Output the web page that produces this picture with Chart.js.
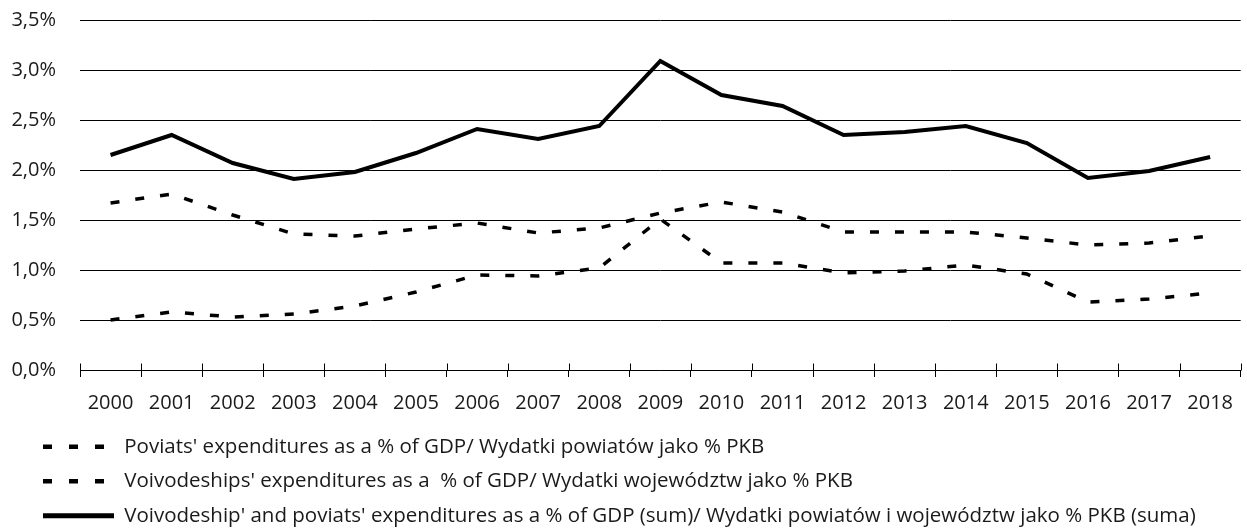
<!DOCTYPE html>
<html>
<head>
<meta charset="utf-8">
<script src="https://cdn.jsdelivr.net/npm/chart.js@4/dist/chart.umd.min.js"></script>
<style>
  html, body { margin: 0; padding: 0; background: #fff; }
  #wrap { width: 1247px; height: 528px; }
</style>
</head>
<body>
<div id="wrap"><canvas id="myChart" width="1247" height="528"></canvas></div>
<script>
/*
  • Data
  ---------- ---------- ---------- ---------- ----------
*/
const years = ['2000', '2001', '2002', '2003', '2004', '2005', '2006', '2007', '2008', '2009',
  '2010', '2011', '2012', '2013', '2014', '2015', '2016', '2017', '2018'];

const poviats = [1.67, 1.76, 1.55, 1.36, 1.34, 1.41, 1.47, 1.37, 1.42, 1.57,
  1.68, 1.58, 1.38, 1.38, 1.38, 1.32, 1.25, 1.27, 1.34];

const voivodeships = [0.50, 0.58, 0.53, 0.56, 0.64, 0.78, 0.95, 0.94, 1.02, 1.51,
  1.07, 1.07, 0.97, 0.99, 1.05, 0.96, 0.68, 0.71, 0.77];

const total = [2.15, 2.35, 2.07, 1.91, 1.98, 2.17, 2.41, 2.31, 2.44, 3.09,
  2.75, 2.64, 2.35, 2.38, 2.44, 2.27, 1.92, 1.99, 2.13];

const yTickLabels = ['0,0%', '0,5%', '1,0%', '1,5%', '2,0%', '2,5%', '3,0%', '3,5%'];

const seriesLabels = [
  "Poviats' expenditures as a % of GDP/ Wydatki powiatów jako % PKB",
  "Voivodeships' expenditures as a  % of GDP/ Wydatki województw jako % PKB",
  "Voivodeship' and poviats' expenditures as a % of GDP (sum)/ Wydatki powiatów i województw jako % PKB (suma)"
];

/*
  • Config
  ---------- ---------- ---------- ---------- ----------
*/
const TICK_FONT = { family: '"Open Sans", sans-serif', size: 20 };
const LEGEND_FONT = { family: '"Open Sans", sans-serif', size: 20.5 };
const TEXT_COLOR = '#1a1a1a';
const DASH = [9, 16];

// tick marks on the x axis cross the axis line, Chart.js only draws the lower half
const crossTicks = {
  id: 'crossTicks',
  afterLayout(chart) {
    // legend starts further right than the y axis labels
    chart.legend.left = 29;
  },
  afterDraw(chart) {
    const x = chart.scales.x;
    const ctx = chart.ctx;
    const y = Math.round(chart.chartArea.bottom) + 0.5;
    ctx.save();
    ctx.strokeStyle = '#000';
    ctx.lineWidth = 1;
    ctx.beginPath();
    for (let i = 0; i <= years.length; i++) {
      const px = Math.round(x.getPixelForValue(i - 0.5)) + 0.5;
      ctx.moveTo(px, y - 7);
      ctx.lineTo(px, y);
    }
    ctx.stroke();
    ctx.restore();
  }
};

function makeLine(label, data, dash, width) {
  return {
    label: label,
    data: data,
    borderColor: '#000',
    backgroundColor: '#000',
    borderWidth: width,
    borderDash: dash,
    borderCapStyle: 'butt',
    borderJoinStyle: 'miter',
    pointRadius: 0,
    tension: 0,
    fill: false
  };
}

const data = {
  labels: years,
  datasets: [
    makeLine(seriesLabels[0], poviats, DASH, 3.5),
    makeLine(seriesLabels[1], voivodeships, DASH, 3.5),
    makeLine(seriesLabels[2], total, [], 4)
  ]
};

/*
  • Chart
  ---------- ---------- ---------- ---------- ----------
*/
const ctx = document.getElementById('myChart').getContext('2d');
new Chart(ctx, {
  type: 'line',
  data: data,
  plugins: [crossTicks],
  options: {
    responsive: false,
    animation: false,
    layout: {
      padding: { top: 20, left: 0, right: 0, bottom: -8 }
    },
    plugins: {
      tooltip: { enabled: false },
      legend: {
        position: 'bottom',
        align: 'start',
        labels: {
          color: TEXT_COLOR,
          font: LEGEND_FONT,
          padding: 14,
          usePointStyle: true,
          pointStyle: 'line',
          pointStyleWidth: 71,
          generateLabels: function (chart) {
            const items = Chart.defaults.plugins.legend.labels.generateLabels(chart);
            items.forEach(function (item) {
              const ds = chart.data.datasets[item.datasetIndex];
              if (ds.borderDash && ds.borderDash.length) {
                item.lineDash = [9, 17];
                item.lineWidth = 4.5;
              } else {
                item.lineDash = [];
                item.lineWidth = 5;
              }
              item.lineCap = 'butt';
            });
            return items;
          }
        }
      }
    },
    scales: {
      x: {
        offset: true,
        grid: {
          offset: true,
          drawOnChartArea: false,
          drawTicks: true,
          tickLength: 7,
          color: '#000',
          lineWidth: 1
        },
        border: { display: true, color: '#000', width: 1 },
        ticks: {
          color: TEXT_COLOR,
          font: TICK_FONT,
          padding: 14,
          maxRotation: 0,
          autoSkip: false
        },
        afterFit: function (scale) {
          scale.height = 52.5;
        }
      },
      y: {
        min: 0,
        max: 3.5,
        grid: {
          drawTicks: true,
          tickLength: 24,
          tickColor: 'rgba(0,0,0,0)',
          color: '#000',
          lineWidth: 1
        },
        border: { display: false },
        ticks: {
          stepSize: 0.5,
          color: TEXT_COLOR,
          font: TICK_FONT,
          padding: 0,
          callback: function (value, index) {
            return yTickLabels[index];
          }
        },
        afterFit: function (scale) {
          scale.width = 80;
        }
      }
    }
  }
});
</script>
</body>
</html>
